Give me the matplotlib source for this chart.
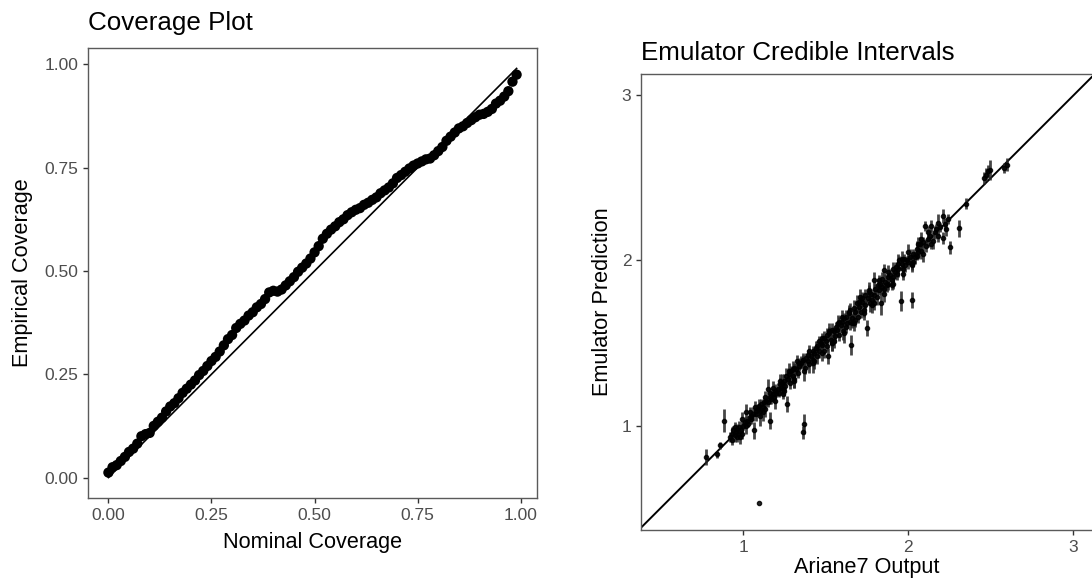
import numpy as np
import matplotlib
matplotlib.use("Agg")
import matplotlib.pyplot as plt

plt.rcParams['font.family'] = ['Liberation Sans', 'DejaVu Sans']

# coverage plot data
nominal = [i / 100 for i in range(100)]
empirical = [
    0.012, 0.025, 0.030, 0.040, 0.050, 0.062, 0.070, 0.082, 0.100, 0.105,
    0.108, 0.125, 0.135, 0.145, 0.160, 0.172, 0.180, 0.192, 0.205, 0.215,
    0.225, 0.235, 0.248, 0.258, 0.270, 0.282, 0.292, 0.305, 0.320, 0.335,
    0.345, 0.362, 0.372, 0.380, 0.392, 0.400, 0.412, 0.420, 0.432, 0.448,
    0.452, 0.450, 0.455, 0.465, 0.475, 0.485, 0.498, 0.508, 0.518, 0.530,
    0.545, 0.560, 0.578, 0.590, 0.600, 0.608, 0.618, 0.625, 0.635, 0.642,
    0.648, 0.652, 0.660, 0.665, 0.672, 0.678, 0.688, 0.695, 0.702, 0.712,
    0.725, 0.732, 0.740, 0.748, 0.755, 0.760, 0.765, 0.770, 0.772, 0.780,
    0.790, 0.800, 0.815, 0.825, 0.835, 0.845, 0.850, 0.858, 0.865, 0.872,
    0.878, 0.880, 0.885, 0.892, 0.905, 0.912, 0.922, 0.935, 0.958, 0.975,
]
cov_ticks = [0.0, 0.25, 0.5, 0.75, 1.0]
cov_ticklabels = ["0.00", "0.25", "0.50", "0.75", "1.00"]

# emulator credible intervals data
ariane_x = [
    0.775, 0.84, 0.862, 0.884, 0.92, 0.93, 0.935, 0.94, 0.95, 0.955,
    0.96, 0.965, 0.97, 0.975, 0.98, 0.985, 0.99, 1.097,
    1.00, 1.01, 1.017, 1.025, 1.03, 1.04, 1.045, 1.05, 1.06, 1.068,
    1.075, 1.08, 1.09, 1.095, 1.10, 1.11, 1.12, 1.125, 1.13, 1.14,
    1.148, 1.15, 1.16, 1.165, 1.17, 1.18, 1.185, 1.19, 1.20, 1.21,
    1.215, 1.22, 1.23, 1.235, 1.24, 1.25, 1.255, 1.26, 1.264, 1.27,
    1.28, 1.285, 1.29, 1.30, 1.305, 1.31, 1.32, 1.323, 1.33, 1.34,
    1.35, 1.36, 1.362, 1.37, 1.372, 1.38, 1.39, 1.395, 1.40, 1.41,
    1.42, 1.425, 1.43, 1.44, 1.445, 1.45, 1.46, 1.47, 1.475, 1.48,
    1.49, 1.50, 1.505, 1.51, 1.514, 1.52, 1.53, 1.535, 1.54, 1.55,
    1.555, 1.56, 1.57, 1.575, 1.58, 1.59, 1.60, 1.605, 1.61, 1.62,
    1.625, 1.63, 1.64, 1.645, 1.65, 1.653, 1.66, 1.67, 1.675, 1.68,
    1.69, 1.695, 1.70, 1.71, 1.715, 1.72, 1.73, 1.735, 1.74, 1.75,
    1.755, 1.76, 1.77, 1.775, 1.78, 1.79, 1.795, 1.80, 1.81, 1.815,
    1.82, 1.83, 1.835, 1.84, 1.85, 1.855, 1.86, 1.87, 1.875, 1.88,
    1.89, 1.90, 1.905, 1.91, 1.92, 1.925, 1.93, 1.94, 1.944, 1.953,
    1.96, 1.97, 1.975, 1.98, 1.99, 2.00, 2.01, 2.02, 2.025, 2.03,
    2.04, 2.05, 2.055, 2.06, 2.07, 2.08, 2.09, 2.10, 2.11, 2.12,
    2.13, 2.14, 2.15, 2.16, 2.17, 2.18, 2.19, 2.21, 2.21, 2.22,
    2.24, 2.25, 2.306, 2.35, 2.46, 2.47, 2.485, 2.496, 2.58, 2.60,
    0.95, 0.99, 1.02, 1.04, 1.07, 1.10, 1.13, 1.16, 1.19, 1.22,
    1.25, 1.28, 1.31, 1.34, 1.37, 1.40, 1.43, 1.46, 1.49, 1.52,
    1.55, 1.58, 1.61, 1.64, 1.67, 1.70, 1.73, 1.76, 1.79, 1.82,
    1.85, 1.88, 1.91, 1.94, 1.97, 2.00, 2.03, 2.06, 2.09, 2.12,
    1.12, 1.18, 1.24, 1.30, 1.36, 1.42, 1.48, 1.54, 1.60, 1.66,
    1.72, 1.78, 1.84, 1.90, 1.96, 2.02, 2.08, 2.14, 2.18, 2.23,
]
emu_pred = [
    0.81, 0.825, 0.88, 1.03, 0.93, 0.95, 0.91, 0.97, 0.94, 0.96,
    0.93, 0.98, 0.95, 0.99, 0.93, 0.97, 0.95, 0.533,
    1.00, 1.02, 1.08, 1.03, 1.01, 1.05, 1.04, 1.06, 1.07, 0.97,
    1.09, 1.07, 1.10, 1.12, 1.09, 1.13, 1.11, 1.14, 1.10, 1.15,
    1.22, 1.14, 1.17, 1.03, 1.16, 1.19, 1.17, 1.21, 1.20, 1.22,
    1.20, 1.25, 1.23, 1.26, 1.22, 1.27, 1.24, 1.30, 1.13, 1.28,
    1.31, 1.26, 1.33, 1.30, 1.35, 1.28, 1.34, 1.39, 1.32, 1.36,
    1.38, 0.96, 1.40, 1.01, 1.35, 1.41, 1.39, 1.43, 1.37, 1.42,
    1.45, 1.40, 1.44, 1.47, 1.42, 1.48, 1.45, 1.50, 1.44, 1.49,
    1.53, 1.51, 1.55, 1.48, 1.42, 1.56, 1.52, 1.58, 1.50, 1.57,
    1.54, 1.60, 1.58, 1.62, 1.55, 1.61, 1.63, 1.57, 1.65, 1.60,
    1.66, 1.62, 1.68, 1.63, 1.70, 1.49, 1.65, 1.71, 1.64, 1.69,
    1.74, 1.66, 1.72, 1.78, 1.69, 1.75, 1.70, 1.79, 1.73, 1.59,
    1.77, 1.81, 1.74, 1.80, 1.76, 1.88, 1.79, 1.83, 1.78, 1.85,
    1.82, 1.86, 1.74, 1.84, 1.94, 1.83, 1.87, 1.85, 1.90, 1.86,
    1.91, 1.88, 1.95, 1.90, 1.93, 1.96, 1.92, 1.95, 2.00, 1.755,
    1.98, 1.95, 2.01, 1.97, 2.00, 1.99, 2.02, 1.76, 1.98, 2.04,
    2.02, 2.03, 2.07, 2.05, 2.10, 2.06, 2.11, 2.21, 2.09, 2.13,
    2.15, 2.21, 2.12, 2.17, 2.19, 2.15, 2.20, 2.27, 2.135, 2.22,
    2.25, 2.08, 2.195, 2.345, 2.50, 2.52, 2.54, 2.55, 2.56, 2.58,
    0.99, 1.04, 1.00, 1.08, 1.11, 1.06, 1.17, 1.20, 1.15, 1.27,
    1.21, 1.33, 1.27, 1.38, 1.33, 1.45, 1.39, 1.51, 1.45, 1.57,
    1.51, 1.63, 1.56, 1.69, 1.62, 1.75, 1.68, 1.82, 1.74, 1.88,
    1.80, 1.93, 1.86, 1.98, 1.92, 2.05, 1.99, 2.10, 2.04, 2.17,
    1.08, 1.23, 1.19, 1.34, 1.40, 1.38, 1.53, 1.50, 1.66, 1.62,
    1.77, 1.73, 1.89, 1.85, 2.01, 1.97, 2.13, 2.10, 2.23, 2.19,
]
emu_err = [
    0.05, 0.02, 0.02, 0.07, 0.03, 0.04, 0.03, 0.03, 0.04, 0.02,
    0.03, 0.03, 0.02, 0.04, 0.04, 0.03, 0.03, 0.0,
    0.03, 0.03, 0.05, 0.03, 0.02, 0.04, 0.03, 0.03, 0.04, 0.05,
    0.03, 0.04, 0.03, 0.04, 0.03, 0.03, 0.04, 0.03, 0.05, 0.03,
    0.06, 0.03, 0.04, 0.05, 0.03, 0.04, 0.03, 0.04, 0.03, 0.04,
    0.03, 0.04, 0.03, 0.05, 0.03, 0.04, 0.03, 0.05, 0.05, 0.03,
    0.04, 0.04, 0.03, 0.04, 0.03, 0.05, 0.04, 0.04, 0.03, 0.03,
    0.04, 0.04, 0.03, 0.06, 0.04, 0.03, 0.04, 0.03, 0.05, 0.03,
    0.03, 0.04, 0.03, 0.04, 0.05, 0.03, 0.04, 0.03, 0.05, 0.04,
    0.04, 0.03, 0.04, 0.03, 0.05, 0.04, 0.03, 0.04, 0.05, 0.03,
    0.04, 0.03, 0.04, 0.05, 0.04, 0.03, 0.04, 0.05, 0.03, 0.04,
    0.04, 0.03, 0.04, 0.05, 0.04, 0.06, 0.03, 0.05, 0.04, 0.03,
    0.05, 0.04, 0.03, 0.05, 0.04, 0.03, 0.04, 0.04, 0.05, 0.05,
    0.04, 0.04, 0.05, 0.03, 0.04, 0.05, 0.04, 0.03, 0.05, 0.04,
    0.03, 0.04, 0.07, 0.04, 0.04, 0.03, 0.05, 0.04, 0.03, 0.04,
    0.04, 0.03, 0.04, 0.05, 0.04, 0.03, 0.04, 0.05, 0.03, 0.06,
    0.04, 0.05, 0.03, 0.04, 0.03, 0.04, 0.05, 0.05, 0.04, 0.03,
    0.04, 0.03, 0.05, 0.04, 0.04, 0.05, 0.03, 0.03, 0.04, 0.05,
    0.04, 0.035, 0.05, 0.04, 0.03, 0.04, 0.03, 0.04, 0.035, 0.04,
    0.03, 0.04, 0.05, 0.035, 0.035, 0.04, 0.04, 0.06, 0.03, 0.04,
    0.03, 0.04, 0.05, 0.03, 0.04, 0.06, 0.04, 0.03, 0.05, 0.04,
    0.03, 0.05, 0.04, 0.03, 0.06, 0.04, 0.05, 0.03, 0.04, 0.05,
    0.04, 0.03, 0.06, 0.04, 0.05, 0.03, 0.04, 0.05, 0.04, 0.03,
    0.05, 0.04, 0.03, 0.06, 0.04, 0.05, 0.03, 0.04, 0.05, 0.04,
    0.05, 0.04, 0.03, 0.05, 0.04, 0.06, 0.03, 0.05, 0.04, 0.03,
    0.04, 0.05, 0.04, 0.03, 0.05, 0.04, 0.04, 0.03, 0.05, 0.04,
]
emu_ticks = [1, 2, 3]

W, H = 1092, 581
fig = plt.figure(figsize=(W / 100, H / 100), dpi=100)

tick_col = '#4D4D4D'
frame_col = '#5a5a5a'


def style(ax):
    for s in ax.spines.values():
        s.set_color(frame_col)
        s.set_linewidth(1.0)
    ax.tick_params(length=3.9, width=1.0, color='#333333', labelcolor=tick_col,
                   labelsize=12.5, pad=3.1)


# left panel
ax1 = fig.add_axes([88 / W, 1 - 498 / H, 449 / W, 450 / H])
ax1.plot([0, 0.99], [0, 0.99], color='black', lw=1.2, zorder=2)
ax1.scatter(nominal, empirical, s=55, color='black', edgecolors='none', zorder=3)
ax1.set_xlim(-0.0495, 1.0395)
ax1.set_ylim(-0.0495, 1.0395)
ax1.set_xticks(cov_ticks)
ax1.set_xticklabels(cov_ticklabels)
ax1.set_yticks(cov_ticks)
ax1.set_yticklabels(cov_ticklabels)
style(ax1)
ax1.set_xlabel('Nominal Coverage', fontsize=15.6, va='top')
ax1.xaxis.set_label_coords(312.5 / W, 1 - 532 / H, transform=fig.transFigure)
ax1.set_ylabel('Empirical Coverage', fontsize=15.6, va='center')
ax1.yaxis.set_label_coords(23 / W, 1 - 273 / H, transform=fig.transFigure)
fig.text(88 / W, 1 - 30 / H, 'Coverage Plot', fontsize=18.75, va='baseline', ha='left')

# right panel
ax2 = fig.add_axes([641 / W, 1 - 530 / H, 452.5 / W, 456 / H])
ax2.set_xlim(0.381, 3.122)
ax2.set_ylim(0.367, 3.130)
ax2.axline((1, 1), slope=1, color='black', lw=1.4, zorder=2)
ax2.errorbar(ariane_x, emu_pred, yerr=emu_err, fmt='o', ms=3.0, color='black',
             ecolor='#262626', elinewidth=2.0, capsize=0, alpha=0.85, zorder=3)
ax2.set_xticks(emu_ticks)
ax2.set_yticks(emu_ticks)
style(ax2)
ax2.set_xlabel('Ariane7 Output', fontsize=15.6, va='top')
ax2.xaxis.set_label_coords(867 / W, 1 - 557 / H, transform=fig.transFigure)
ax2.set_ylabel('Emulator Prediction', fontsize=15.6, va='center')
ax2.yaxis.set_label_coords(603 / W, 1 - 302 / H, transform=fig.transFigure)
fig.text(641 / W, 1 - 60 / H, 'Emulator Credible Intervals', fontsize=18.75,
         va='baseline', ha='left')

fig.savefig('out.png', dpi=100)
